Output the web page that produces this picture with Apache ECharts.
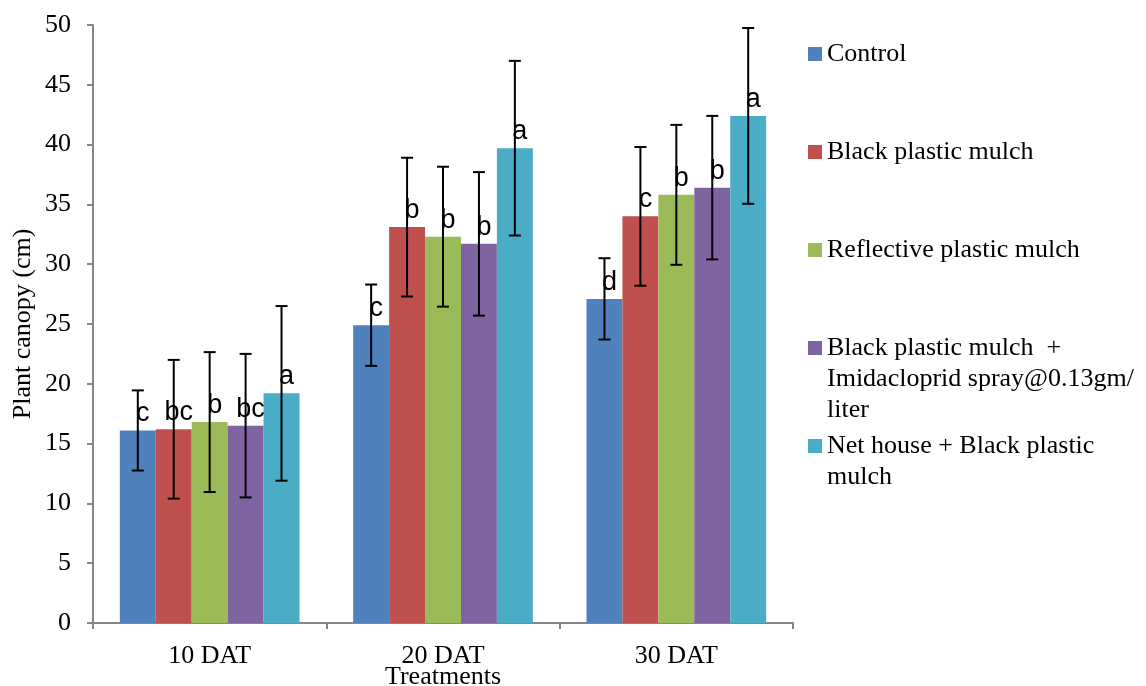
<!DOCTYPE html>
<html>
<head>
<meta charset="utf-8">
<script src="https://cdn.jsdelivr.net/npm/echarts@6/dist/echarts.min.js"></script>
<style>html,body{margin:0;padding:0;background:#fff}#c{width:1146px;height:686px}</style>
</head>
<body>
<div id="c"></div>
<script>
const categories = ['10 DAT', '20 DAT', '30 DAT'];
const yTicks = {min: 0, max: 50, interval: 5};

const seriesNames = [
  'Control',
  'Black plastic mulch',
  'Reflective plastic mulch',
  'Black plastic mulch  + Imidacloprid spray@0.13gm/liter',
  'Net house + Black plastic mulch'
];
const legendLines = [
  ['Control'],
  ['Black plastic mulch'],
  ['Reflective plastic mulch'],
  ['Black plastic mulch  +', 'Imidacloprid spray@0.13gm/', 'liter'],
  ['Net house + Black plastic', 'mulch']
];

const controlValues    = [16.1, 24.9, 27.1];
const blackValues      = [16.2, 33.1, 34.0];
const reflectiveValues = [16.8, 32.3, 35.8];
const imidValues       = [16.5, 31.7, 36.4];
const netValues        = [19.2, 39.7, 42.4];

const controlErr    = [3.35, 3.4, 3.4];
const blackErr      = [5.8, 5.8, 5.8];
const reflectiveErr = [5.85, 5.85, 5.85];
const imidErr       = [6.0, 6.0, 6.0];
const netErr        = [7.3, 7.3, 7.35];

const controlLetters    = ['c', 'c', 'd'];
const blackLetters      = ['bc', 'b', 'c'];
const reflectiveLetters = ['b', 'b', 'b'];
const imidLetters       = ['bc', 'b', 'b'];
const netLetters        = ['a', 'a', 'a'];

const allValues  = [controlValues, blackValues, reflectiveValues, imidValues, netValues];
const allErrs    = [controlErr, blackErr, reflectiveErr, imidErr, netErr];
const allLetters = [controlLetters, blackLetters, reflectiveLetters, imidLetters, netLetters];
const colors = ['#4F81BD', '#C0504D', '#9BBB59', '#8064A2', '#4BACC6'];

const CAT_GAP = 0.23;
const serif = 'Liberation Serif';

const chart = echarts.init(document.getElementById('c'), null, {renderer: 'canvas'});

const series = [];
seriesNames.forEach((name, k) => {
  series.push({
    name: name,
    type: 'bar',
    barGap: '0%',
    barCategoryGap: (CAT_GAP * 100) + '%',
    itemStyle: {color: colors[k]},
    z: 2,
    label: {
      show: true,
      position: 'top',
      distance: 3,
      offset: [5, 0],
      fontFamily: 'Liberation Sans',
      fontSize: 27,
      color: '#000',
      formatter: p => allLetters[k][p.dataIndex]
    },
    data: allValues[k]
  });
});
seriesNames.forEach((name, k) => {
  series.push({
    name: name + ' error',
    type: 'custom',
    z: 5,
    silent: true,
    renderItem: (params, api) => {
      const ci = api.value(0), v = api.value(1), e = api.value(2);
      const center = api.coord([ci, v]);
      const band = api.size([1, 0])[0];
      const bw = band * (1 - CAT_GAP) / seriesNames.length;
      const x = center[0] + (k - (seriesNames.length - 1) / 2) * bw;
      const yt = api.coord([ci, v + e])[1];
      const yb = api.coord([ci, v - e])[1];
      const cap = 6;
      const st = {stroke: '#000', lineWidth: 2};
      return {
        type: 'group',
        children: [
          {type: 'line', shape: {x1: x, y1: yt, x2: x, y2: yb}, style: st},
          {type: 'line', shape: {x1: x - cap, y1: yt, x2: x + cap, y2: yt}, style: st},
          {type: 'line', shape: {x1: x - cap, y1: yb, x2: x + cap, y2: yb}, style: st}
        ]
      };
    },
    encode: {x: 0, y: 1},
    data: categories.map((c, i) => [i, allValues[k][i], allErrs[k][i]])
  });
});

const legendCenters = [54, 152, 250, 348, 446];
const legends = seriesNames.map((name, k) => ({
  data: [name],
  left: 808,
  top: legendCenters[k] - 15.5,
  orient: 'vertical',
  padding: 0,
  itemWidth: 14,
  itemHeight: 14,
  icon: 'rect',
  selectedMode: false,
  formatter: () => legendLines[k][0],
  textStyle: {fontFamily: serif, fontSize: 26, color: '#000', lineHeight: 31}
}));

const graphics = [];
legendLines.forEach((lines, k) => {
  lines.slice(1).forEach((t, j) => {
    graphics.push({
      type: 'text',
      left: 827,
      top: legendCenters[k] + 31 * (j + 1) - 15.5,
      style: {text: t, font: '26px "' + serif + '"', fill: '#000', lineHeight: 31, verticalAlign: 'top'}
    });
  });
});

chart.setOption({
  animation: false,
  backgroundColor: '#fff',
  grid: {left: 93, right: 353, top: 25, bottom: 63, containLabel: false, outerBoundsMode: 'none'},
  legend: legends,
  graphic: graphics,
  xAxis: {
    type: 'category',
    data: categories,
    name: 'Treatments',
    nameLocation: 'middle',
    nameGap: 41,
    nameMoveOverlap: false,
    nameTextStyle: {fontFamily: serif, fontSize: 26, color: '#000'},
    axisLine: {lineStyle: {color: '#868686', width: 2}},
    axisTick: {show: true, length: 6, lineStyle: {color: '#868686', width: 2}},
    axisLabel: {fontFamily: serif, fontSize: 26, color: '#000', margin: 20}
  },
  yAxis: {
    type: 'value',
    min: yTicks.min,
    max: yTicks.max,
    interval: yTicks.interval,
    name: 'Plant canopy (cm)',
    nameLocation: 'middle',
    nameGap: 57,
    nameMoveOverlap: false,
    nameTextStyle: {fontFamily: serif, fontSize: 26, color: '#000'},
    splitLine: {show: false},
    axisLine: {show: true, lineStyle: {color: '#868686', width: 2}},
    axisTick: {show: true, length: 6, lineStyle: {color: '#868686', width: 2}},
    axisLabel: {fontFamily: serif, fontSize: 26, color: '#000', margin: 22}
  },
  series: series
});
</script>
</body>
</html>
